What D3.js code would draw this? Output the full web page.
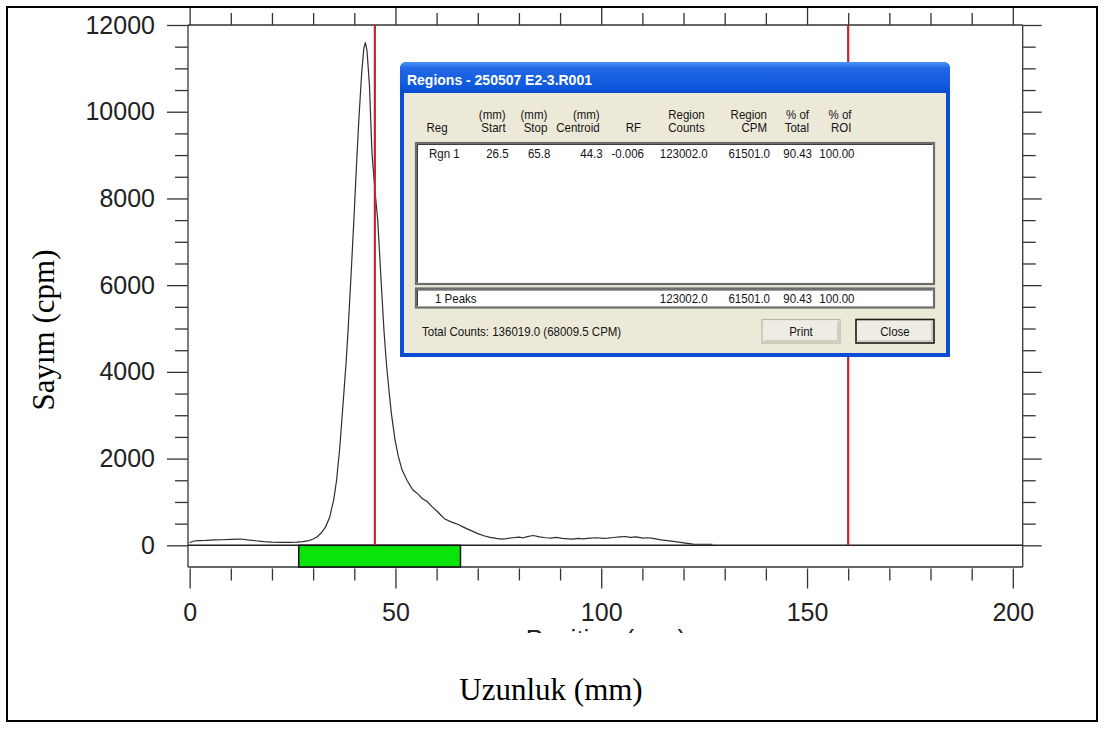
<!DOCTYPE html>
<html>
<head>
<meta charset="utf-8">
<script src="https://cdn.jsdelivr.net/npm/d3@7"></script>
<style>
  html, body { margin: 0; padding: 0; background: #fff; }
  svg { display: block; }
</style>
</head>
<body>
<svg id="chart" width="1105" height="729"></svg>
<script>
// Scan profile: position along the strip (mm) and count rate (cpm)
const positionMm = [0, 1, 2, 4, 6, 8, 10, 12, 13, 14, 16, 18, 20, 22, 24, 26, 27.5, 29, 30, 31, 32, 33, 34, 35,
  35.7, 36.5, 37.4, 38, 38.5, 39.2, 39.9, 40.5, 41.1, 41.8, 42.3, 42.7, 43.1, 43.7, 44.3, 45, 45.7, 46.4,
  47.2, 47.8, 48.4, 49, 49.9, 50.7, 51.6, 52.8, 54.2, 55.5, 56.5, 57.7, 59, 60.2, 61, 62, 63.5, 65.4, 66.5,
  68, 70, 71.5, 73, 74.5, 75.8, 77, 78.5, 80, 81, 82, 83.5, 85, 86.5, 87.8, 89, 90.5, 92, 93, 94.5, 95.5,
  97.3, 99, 100.5, 101.6, 103, 104.5, 105.9, 107, 108.5, 110.2, 111.5, 112.5, 114.5, 116, 117.5, 118.8,
  120.5, 122.3, 124, 126.6, 127];
const countsCpm = [60, 100, 110, 115, 125, 128, 135, 145, 140, 125, 105, 85, 75, 70, 70, 72, 85, 110, 145, 200,
  290, 420, 640, 1050, 1500, 2280, 3430, 4200, 4970, 6200, 7500, 8700, 9800, 10900, 11450, 11600, 11400, 10580,
  9050, 8200, 7500, 6300, 4970, 4200, 3600, 3050, 2430, 2050, 1740, 1500, 1280, 1180, 1080, 1010, 880, 780, 700,
  605, 540, 475, 420, 357, 270, 220, 185, 160, 143, 155, 175, 190, 170, 200, 226, 195, 175, 166, 185, 160, 150,
  143, 160, 150, 166, 175, 160, 166, 180, 195, 203, 185, 195, 166, 175, 160, 127, 110, 90, 73, 50, 28, 25, 25, 20];

// Axis ticks
const xMajorTicks = [0, 50, 100, 150, 200];
const xMinorTicks = [10, 20, 30, 40, 60, 70, 80, 90, 110, 120, 130, 140, 160, 170, 180, 190];
const yMajorTicks = [0, 2000, 4000, 6000, 8000, 10000, 12000];
const yMinorTicks = [500, 1000, 1500, 2500, 3000, 3500, 4500, 5000, 5500, 6500, 7000, 7500,
  8500, 9000, 9500, 10500, 11000, 11500];

// Region of interest and cursor markers (mm)
const regionBounds = [26.5, 65.8];
const markerMm = [45, 160];

// Regions table
const headTop = ["", "(mm)", "(mm)", "(mm)", "", "Region", "Region", "% of", "% of"];
const headBottom = ["Reg", "Start", "Stop", "Centroid", "RF", "Counts", "CPM", "Total", "ROI"];
const rowValues = ["Rgn 1", "26.5", "65.8", "44.3", "-0.006", "123002.0", "61501.0", "90.43", "100.00"];
const footerValues = ["1 Peaks", "", "", "", "", "123002.0", "61501.0", "90.43", "100.00"];
const dialogTitle = "Regions - 250507 E2-3.R001";
const totalLine = "Total Counts: 136019.0  (68009.5 CPM)";
const buttonLabels = ["Print", "Close"];

const svg = d3.select("#chart");

// Outer frame
svg.append("rect").attr("x", 7).attr("y", 7).attr("width", 1090).attr("height", 714)
  .attr("fill", "#fff").attr("stroke", "#000").attr("stroke-width", 2);

const x = d3.scaleLinear().domain([-0.4, 202.4]).range([188, 1022.7]);
const y = d3.scaleLinear().domain([-500, 12000]).range([567, 25]);

const [xl, xr] = x.range();
const axisColor = "#333";

function styleAxis(g) {
  g.select(".domain").remove();
  g.selectAll(".tick line").attr("stroke", axisColor).attr("stroke-width", 1.3);
}

// Bottom axis (below the region band)
svg.append("g").attr("transform", `translate(0,${y(-500) + 1.5})`)
  .call(d3.axisBottom(x).tickValues(xMajorTicks).tickSize(20).tickPadding(15).tickFormat(d3.format("d")))
  .call(styleAxis)
  .call(g => g.selectAll("text").attr("font-family", "Liberation Sans, Arial, sans-serif")
    .attr("font-size", 25).attr("fill", "#222"));
svg.append("g").attr("transform", `translate(0,${y(-500) + 1.5})`)
  .call(d3.axisBottom(x).tickValues(xMinorTicks).tickSize(12).tickFormat(""))
  .call(styleAxis);

// Top axis
svg.append("g").attr("transform", `translate(0,${y(12000)})`)
  .call(d3.axisTop(x).tickValues(xMajorTicks).tickSize(17).tickFormat(""))
  .call(styleAxis);
svg.append("g").attr("transform", `translate(0,${y(12000)})`)
  .call(d3.axisTop(x).tickValues(xMinorTicks).tickSize(12).tickFormat(""))
  .call(styleAxis);

// Left axis
svg.append("g").attr("transform", `translate(${xl},0)`)
  .call(d3.axisLeft(y).tickValues(yMajorTicks).tickSize(21).tickPadding(12).tickFormat(d3.format("d")))
  .call(styleAxis)
  .call(g => g.selectAll("text").attr("font-family", "Liberation Sans, Arial, sans-serif")
    .attr("font-size", 25).attr("fill", "#222"));
svg.append("g").attr("transform", `translate(${xl},0)`)
  .call(d3.axisLeft(y).tickValues(yMinorTicks).tickSize(13).tickFormat(""))
  .call(styleAxis);

// Right axis
svg.append("g").attr("transform", `translate(${xr},0)`)
  .call(d3.axisRight(y).tickValues(yMajorTicks).tickSize(19).tickFormat(""))
  .call(styleAxis);
svg.append("g").attr("transform", `translate(${xr},0)`)
  .call(d3.axisRight(y).tickValues(yMinorTicks).tickSize(13).tickFormat(""))
  .call(styleAxis);

// Plot frame: verticals and horizontals
const frame = svg.append("g").attr("stroke", "#444").attr("stroke-width", 1.4);
frame.append("line").attr("x1", xl).attr("x2", xl).attr("y1", y(12000)).attr("y2", y(-500));
frame.append("line").attr("x1", xr).attr("x2", xr).attr("y1", y(12000)).attr("y2", y(-500));
frame.append("line").attr("x1", xl).attr("x2", xr).attr("y1", y(12000)).attr("y2", y(12000)).attr("stroke", axisColor);
frame.append("line").attr("x1", xl).attr("x2", xr).attr("y1", y(-500)).attr("y2", y(-500)).attr("stroke", axisColor);
frame.append("line").attr("x1", xl).attr("x2", xr).attr("y1", y(0)).attr("y2", y(0)).attr("stroke", "#222");

// Region band
svg.append("rect")
  .attr("x", x(regionBounds[0])).attr("y", y(0))
  .attr("width", x(regionBounds[1]) - x(regionBounds[0]))
  .attr("height", y(-500) - y(0))
  .attr("fill", "#0be40b").attr("stroke", "#111").attr("stroke-width", 1.5);

// Profile curve
const line = d3.line().x((d, i) => x(positionMm[i])).y(d => y(d));
svg.append("path").datum(countsCpm)
  .attr("d", line).attr("fill", "none").attr("stroke", "#2e2e2e").attr("stroke-width", 1.2);

// Cursor markers
svg.selectAll("line.marker").data(markerMm).join("line").attr("class", "marker")
  .attr("x1", d => x(d)).attr("x2", d => x(d))
  .attr("y1", y(12000)).attr("y2", y(0))
  .attr("stroke", "#c3262c").attr("stroke-width", 2.2);

// Original axis caption, partly covered
const clip = svg.append("clipPath").attr("id", "capClip");
clip.append("rect").attr("x", 400).attr("y", 600).attr("width", 400).attr("height", 33);
svg.append("text").attr("clip-path", "url(#capClip)")
  .attr("x", 606).attr("y", 648).attr("text-anchor", "middle")
  .attr("font-family", "Liberation Sans, Arial, sans-serif").attr("font-size", 26).attr("fill", "#222")
  .text("Position (mm)");

// Axis titles
svg.append("text").attr("x", 551).attr("y", 700).attr("text-anchor", "middle")
  .attr("font-family", "Liberation Serif, Times New Roman, serif").attr("font-size", 31)
  .text("Uzunluk (mm)");
svg.append("text").attr("transform", "translate(54,330) rotate(-90)").attr("text-anchor", "middle")
  .attr("font-family", "Liberation Serif, Times New Roman, serif").attr("font-size", 31)
  .text("Sayım (cpm)");

// Regions dialog window
const dlg = svg.append("g");
const defs = svg.append("defs");
const grad = defs.append("linearGradient").attr("id", "titleGrad").attr("x1", 0).attr("x2", 0).attr("y1", 0).attr("y2", 1);
grad.append("stop").attr("offset", "0%").attr("stop-color", "#4a94fa");
grad.append("stop").attr("offset", "20%").attr("stop-color", "#2368e6");
grad.append("stop").attr("offset", "80%").attr("stop-color", "#0d58dc");
grad.append("stop").attr("offset", "100%").attr("stop-color", "#0a49cc");

dlg.append("path")
  .attr("d", "M400,357 L400,69 Q400,62 407,62 L943,62 Q950,62 950,69 L950,357 Z")
  .attr("fill", "#0b4dd4");
dlg.append("path")
  .attr("d", "M400,93 L400,69 Q400,62 407,62 L943,62 Q950,62 950,69 L950,93 Z")
  .attr("fill", "url(#titleGrad)");
dlg.append("rect").attr("x", 404).attr("y", 93).attr("width", 542).attr("height", 260).attr("fill", "#ece9d8");
dlg.append("text").attr("transform", "translate(407,84.5) scale(1,1.06)")
  .attr("font-family", "Liberation Sans, Arial, sans-serif").attr("font-weight", "bold").attr("font-size", 14)
  .attr("fill", "#fff").text(dialogTitle);

const uiFont = "Liberation Sans, Arial, sans-serif";
const colRight = [null, 508.6, 550.3, 602.7, 644, 707.7, 770, 812, 854.5];

// Window text is slightly taller than wide
function uiText(txt, px, py, anchor) {
  return dlg.append("text")
    .attr("transform", `translate(${px},${py}) scale(1,1.16)`)
    .attr("text-anchor", anchor || "start")
    .attr("font-family", uiFont).attr("font-size", 11.5).attr("fill", "#141414")
    .text(txt);
}

// List box and footer box
function sunkenBox(x0, y0, w, h) {
  dlg.append("rect").attr("x", x0).attr("y", y0).attr("width", w).attr("height", h)
    .attr("fill", "#fff").attr("stroke", "#6d6d6d").attr("stroke-width", 2.2);
  dlg.append("path").attr("d", `M${x0 + 1.5},${y0 + h - 1.5} L${x0 + 1.5},${y0 + 1.5} L${x0 + w - 1.5},${y0 + 1.5}`)
    .attr("fill", "none").attr("stroke", "#3c3c3c").attr("stroke-width", 1);
}
sunkenBox(416, 143, 518, 141);
sunkenBox(416, 288.5, 518, 19);

function headerText(txt, i, yy) {
  if (!txt) return;
  if (i === 0) uiText(txt, 426.5, yy);
  else uiText(txt, colRight[i] - 3, yy, "end");
}
headTop.forEach((t, i) => headerText(t, i, 118.5));
headBottom.forEach((t, i) => headerText(t, i, 132));

function rowText(values, yy, firstX) {
  values.forEach((v, i) => {
    if (!v) return;
    if (i === 0) uiText(v, firstX, yy);
    else uiText(v, colRight[i], yy, "end");
  });
}
rowText(rowValues, 157.5, 429);
rowText(footerValues, 302.5, 435);

uiText(totalLine, 422, 335.5);

// Buttons
const buttons = [{ x0: 762, w: 78 }, { x0: 856, w: 78 }];
buttons.forEach((b, i) => {
  const g = dlg.append("g");
  g.append("rect").attr("x", b.x0).attr("y", 319.5).attr("width", b.w).attr("height", 23.5)
    .attr("fill", "#efede3").attr("stroke", i === 1 ? "#1a1a1a" : "#b9b6a6").attr("stroke-width", i === 1 ? 1.6 : 1.2);
  g.append("path").attr("d", `M${b.x0 + 2},${319.5 + 21.5} L${b.x0 + b.w - 2},${319.5 + 21.5} L${b.x0 + b.w - 2},${321.5}`)
    .attr("fill", "none").attr("stroke", "#b4b0a0").attr("stroke-width", 1);
  uiText(buttonLabels[i], b.x0 + b.w / 2, 335.5, "middle");
});
</script>
</body>
</html>
